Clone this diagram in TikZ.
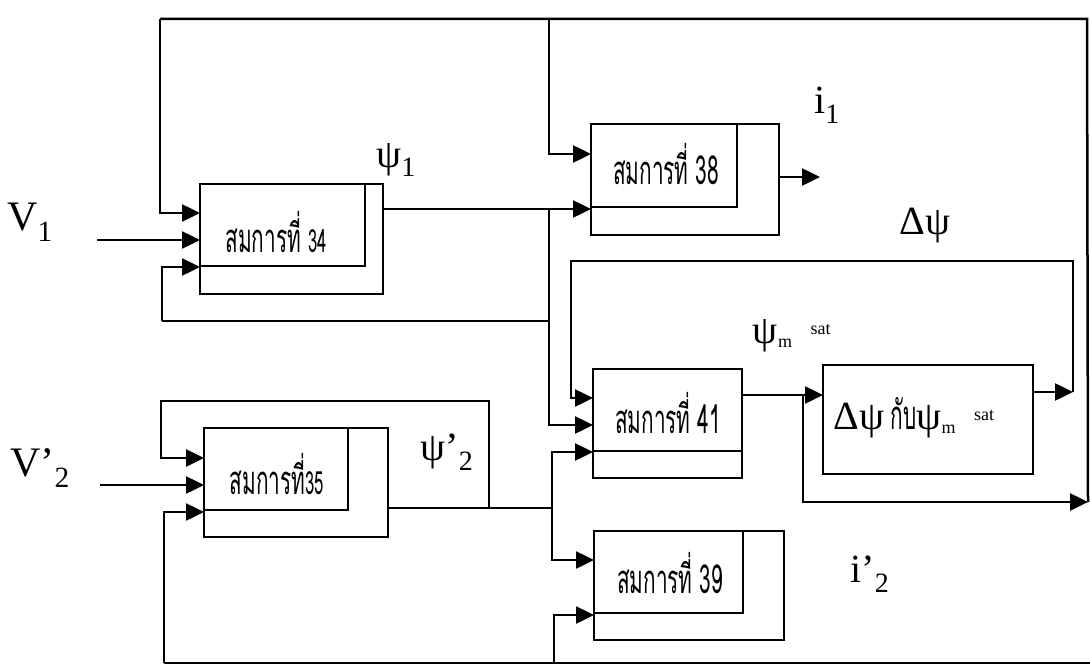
\documentclass[tikz,border=0pt]{standalone}
\usepackage{fontspec}
\setmainfont{Liberation Serif}
\newfontfamily\thaifont[Script=Thai,FakeStretch=0.52]{Loma}
\usetikzlibrary{arrows.meta}
\begin{document}
\begin{tikzpicture}[x=1pt,y=-1pt,
  wire/.style={line width=2.5pt},
  arr/.style={line width=2.5pt,-{Triangle[length=18pt,width=17pt]}},
  box/.style={draw, line width=2.5pt, anchor=north west, inner sep=0pt, outer sep=0pt},
  eq/.style={font=\thaifont\fontsize{40}{42}\selectfont, inner sep=0pt},
  lbl/.style={font=\fontsize{40}{42}\selectfont, inner sep=0pt},
  big/.style={font=\fontsize{42}{44}\selectfont, inner sep=0pt}]
\useasboundingbox (0,0) rectangle (1090,669);

% ---- blocks (outer and inner rectangles)
\node[box, minimum width=183pt, minimum height=110pt] (b34) at (200,184) {};
\node[box, minimum width=165pt, minimum height=82pt] (b34i) at (200,184) {};
\node[eq] (t34) at (276,232) {สมการที่ {\fontsize{32}{34}\selectfont 34}};

\node[box, minimum width=188pt, minimum height=111pt] (b38) at (591,124) {};
\node[box, minimum width=146pt, minimum height=83pt] (b38i) at (591,124) {};
\node[eq] (t38) at (666,164) {สมการที่ 38};

\node[box, minimum width=184pt, minimum height=109pt] (b35) at (204,428) {};
\node[box, minimum width=144pt, minimum height=82pt] (b35i) at (204,428) {};
\node[eq] (t35) at (277,474) {สมการที่{\fontsize{32}{34}\selectfont 35}};

\node[box, minimum width=149pt, minimum height=109pt] (b41) at (593,369) {};
\node[box, minimum width=149pt, minimum height=82pt] (b41i) at (593,369) {};
\node[eq] (t41) at (668,413) {สมการที่ 41};

\node[box, minimum width=210pt, minimum height=109pt] (bsat) at (823,365) {};
\node[lbl] (tsat) at (914,418) {Δψ\,{\thaifont กับ}ψ\textsubscript{\fontsize{18}{18}\selectfont m}\textsuperscript{\fontsize{18}{18}\selectfont\quad sat}};

\node[box, minimum width=190pt, minimum height=109pt] (b39) at (594,531) {};
\node[box, minimum width=149pt, minimum height=82pt] (b39i) at (594,531) {};
\node[eq] (t39) at (670,573) {สมการที่ 39};

% ---- labels
\node[big] (lv1) at (30,222) {V\textsubscript{1}};
\node[big] (lv2) at (40,468) {V'\textsubscript{2}};
\node[lbl] (lpsi1) at (396,160) {ψ\textsubscript{1}};
\node[lbl] (lpsi2) at (447,452) {ψ'\textsubscript{2}};
\node[lbl] (li1) at (827,105) {i\textsubscript{1}};
\node[lbl] (ldpsi) at (925,226) {Δψ};
\node[lbl] (lsat) at (792,336) {ψ\textsubscript{\fontsize{18}{18}\selectfont m}\textsuperscript{\fontsize{18}{18}\selectfont\quad sat}};
\node[lbl] (li2) at (870,574) {i'\textsubscript{2}};

% ---- junction coordinates
\coordinate (tr) at (1087,19);
\coordinate (tl) at (160,19);
\coordinate (tm) at (549,19);
\coordinate (jpsi1) at (549,209);
\coordinate (jfb1) at (549,321);
\coordinate (fbl) at (162,321);
\coordinate (v1s) at (97,240);
\coordinate (dtr) at (1073,261);
\coordinate (dtl) at (571,261);
\coordinate (jout) at (803,395);
\coordinate (sats) at (1088,502);
\coordinate (ltl) at (161,401);
\coordinate (ltr) at (489,401);
\coordinate (jpsi2) at (489,508);
\coordinate (j41) at (552,508);
\coordinate (v2s) at (100,485);
\coordinate (bl) at (164,663);
\coordinate (bm) at (554,663);
\coordinate (br) at (1090,663);

% ---- top feedback loop
\draw[wire] (sats) -- (tr) -- (tl);
\draw[arr] (tl) -- (160,213) -- (b34.west |- 0,213);
\draw[arr] (tm) -- (549,154) -- (b38.west |- 0,154);
% V1 input
\draw[arr] (v1s) -- (b34.west |- v1s);
% psi1 output
\draw[arr] (b34.east |- jpsi1) -- (b38.west |- jpsi1);
\draw[arr] (jpsi1) -- (549,425) -- (b41.west |- 0,425);
\draw[wire] (jfb1) -- (fbl);
\draw[arr] (fbl) -- (162,267) -- (b34.west |- 0,267);
% delta psi loop
\draw[arr] (bsat.east |- 0,392) -- (1073,392);
\draw[arr] (1073,392) -- (dtr) -- (dtl) -- (571,398) -- (b41.west |- 0,398);
% block 41 output
\draw[arr] (b41.east |- jout) -- (bsat.west |- jout);
\draw[arr] (jout) -- (803,502) -- (sats);
% block 35 loop
\draw[wire] (b35.east |- jpsi2) -- (j41);
\draw[arr] (jpsi2) -- (ltr) -- (ltl) -- (161,458) -- (b35.west |- 0,458);
\draw[arr] (v2s) -- (b35.west |- v2s);
\draw[arr] (552,508) -- (552,452) -- (b41.west |- 0,452);
\draw[arr] (552,508) -- (552,560) -- (b39.west |- 0,560);
% bottom line
\draw[wire] (br) -- (bl);
\draw[arr] (bl) -- (164,512) -- (b35.west |- 0,512);
\draw[arr] (bm) -- (554,615) -- (b39.west |- 0,615);
% block 38 output
\draw[arr] (b38.east |- 0,177) -- (820,177);
\end{tikzpicture}
\end{document}
